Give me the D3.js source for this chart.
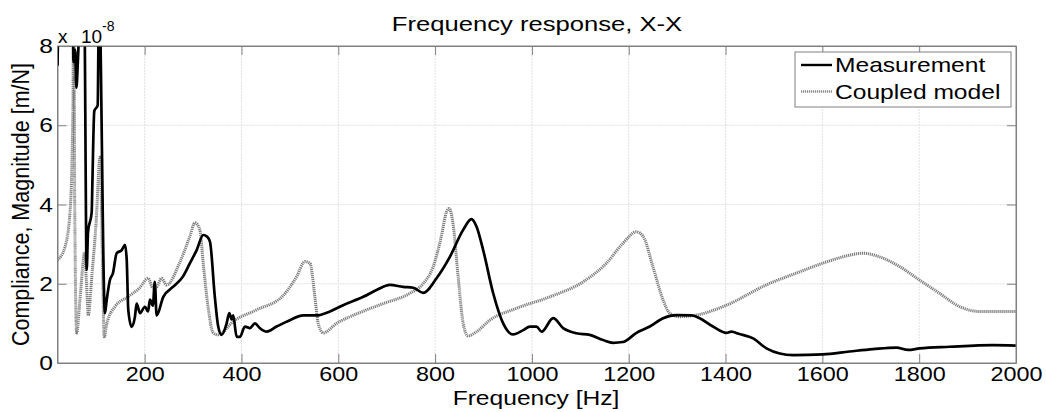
<!DOCTYPE html>
<html>
<head>
<meta charset="utf-8">
<script src="https://cdn.jsdelivr.net/npm/d3@7"></script>
<style>
  body { margin: 0; background: #fff; }
  svg { display: block; font-family: "Liberation Sans", Arial, sans-serif; }
</style>
</head>
<body>
<svg id="chart" width="1046" height="412"></svg>
<script>
// values (magnitude in units of 1e-8 m/N)
const measFreq = [20, 22, 26, 45, 51, 53, 56.5, 59, 62, 65, 70, 74, 76.5, 80.3, 83, 90.6, 92, 96, 103, 104.7,
  106.5, 109, 118, 121.6, 128.4, 134.6, 142.2, 152.6, 159.4, 163, 166.2, 173.2, 180, 183.5, 190.4, 200.7, 207,
  211, 217, 221, 224.8, 238.5, 258.5, 279, 293.6, 307.5, 321, 329, 335, 345, 352, 359, 369.4, 374.8, 379.7, 383,
  390, 397, 407, 417.5, 427.8, 438, 452, 472.6, 500, 527.6, 555, 582.7, 610, 651.5, 679, 706.6, 734, 754.7,
  775.4, 803, 830.5, 858, 875, 885.7, 899.3, 920, 940.6, 961, 982, 995.7, 1009.5, 1020, 1044, 1064.5, 1092,
  1119.6, 1147, 1167.7, 1188, 1216, 1243.5, 1271, 1298.6, 1330, 1346.7, 1374, 1402, 1412, 1429, 1457, 1484.5,
  1512, 1539.5, 1601, 1656, 1704.6, 1753, 1777, 1801, 1863, 1952, 2000];
const measMag = [7.5, 9, 12, 12, 10, 7.6, 7.9, 6.95, 7.6, 8.6, 12, 12, 8, 2.35, 3.3, 3.8, 4.5, 6.36, 6.5, 8.3,
  10, 8, 1.26, 1.59, 2.1, 2.27, 2.77, 2.85, 2.98, 2.6, 1.34, 0.91, 1.17, 1.5, 1.26, 1.42, 1.3,
  1.6, 1.45, 2.05, 1.2, 1.67, 1.92, 2.18, 2.52, 2.85, 3.23, 3.19, 3.06, 1.67, 0.92, 0.71, 1.0, 1.26, 1.1, 1.2,
  0.66, 0.66, 0.92, 0.88, 1.0, 0.88, 0.79, 0.92, 1.08, 1.2, 1.2, 1.3, 1.46, 1.67, 1.84, 1.97, 1.92, 1.9,
  1.77, 2.14, 2.68, 3.36, 3.63, 3.44, 2.85, 1.76, 1.0, 0.72, 0.83, 0.92, 0.92, 0.79, 1.13, 0.88, 0.75,
  0.71, 0.58, 0.51, 0.53, 0.76, 0.92, 1.13, 1.21, 1.2, 1.13, 0.92, 0.76, 0.79, 0.73, 0.62, 0.37,
  0.24, 0.2, 0.22, 0.29, 0.35, 0.39, 0.33, 0.37, 0.41, 0.45, 0.44];

const modelFreq = [20, 35.5, 45.8, 52, 53.5, 55.5, 59.6, 66.5, 73.3, 75.8, 80, 83.6, 91, 99.5, 108, 113, 116.6,
  122, 138.7, 165.6, 190, 207, 217, 225, 235, 245.5, 273, 293.6, 304, 314, 321, 331, 341.7, 352, 383, 431, 486,
  514, 531, 541.4, 551.7, 558.5, 569, 596.5, 638, 693, 748, 775, 796, 813, 823.7, 829, 837, 847.6, 858, 868,
  885.7, 913, 968, 1037, 1106, 1154, 1188, 1216, 1230, 1250, 1271, 1285, 1305, 1340, 1402, 1484, 1553, 1601,
  1643, 1684, 1718, 1760, 1801, 1842, 1884, 1925, 1966, 2000];
const modelMag = [2.6, 2.93, 3.8, 6.5, 12, 4.1, 0.76, 1.6, 2.6, 2.8, 2.0, 1.2, 2.2, 3.5, 5.2, 2.5, 0.66,
  1.0, 1.42, 1.67, 1.9, 2.14, 1.9, 1.92, 2.14, 1.97, 2.55, 3.2, 3.54, 3.36, 2.52, 1.42, 0.76, 0.71, 1.05, 1.34, 1.7,
  2.18, 2.56, 2.52, 1.67, 1.0, 0.76, 1.0, 1.24, 1.5, 1.76, 2.0, 2.43, 3.2, 3.82, 3.9, 3.52, 2.18, 1.0, 0.68,
  0.79, 1.08, 1.38, 1.67, 2.05, 2.52, 3.02, 3.31, 3.19, 2.43, 1.59, 1.25, 1.17, 1.21, 1.46, 1.97, 2.3, 2.52,
  2.68, 2.77, 2.68, 2.43, 2.09, 1.76, 1.42, 1.3, 1.3, 1.3];

const xTicks = [200, 400, 600, 800, 1000, 1200, 1400, 1600, 1800, 2000];
const yTicks = [0, 2, 4, 6, 8];
const seriesNames = ["Measurement", "Coupled model"];

const svg = d3.select("#chart");
const mLeft = 57.5, mRight = 1016, mTop = 46, mBottom = 363;
const x = d3.scaleLinear().domain([20, 2000]).range([mLeft, mRight]);
const y = d3.scaleLinear().domain([0, 8]).range([mBottom, mTop]);
const axisColor = "#808080";
const stretch = 1.17;

// put a text at (px,py) squeezed wider like in the original picture
function placeText(txt, px, py, s) {
  return txt.attr("x", 0).attr("y", 0)
    .attr("transform", "translate(" + px + "," + py + ") scale(" + s + ",1)");
}

svg.append("rect").attr("x", mLeft).attr("y", mTop)
  .attr("width", mRight - mLeft).attr("height", mBottom - mTop).attr("fill", "#fff");

// grid
svg.append("g").selectAll("line").data(xTicks.slice(0, -1)).join("line")
  .attr("x1", d => x(d)).attr("x2", d => x(d)).attr("y1", mTop).attr("y2", mBottom)
  .attr("stroke", "#e0e0e0").attr("stroke-dasharray", "2,1");
svg.append("g").selectAll("line").data(yTicks.slice(1, -1)).join("line")
  .attr("x1", mLeft).attr("x2", mRight).attr("y1", d => y(d)).attr("y2", d => y(d))
  .attr("stroke", "#e0e0e0").attr("stroke-dasharray", "2,1");

// axes, ticks pointing inwards
const fmt = d3.format("d");
const gx = svg.append("g").attr("transform", "translate(0," + mBottom + ")")
  .call(d3.axisBottom(x).tickValues(xTicks).tickFormat(fmt).tickSizeInner(-9).tickSizeOuter(0).tickPadding(4));
const gxTop = svg.append("g").attr("transform", "translate(0," + mTop + ")")
  .call(d3.axisTop(x).tickValues(xTicks).tickSizeInner(-9).tickSizeOuter(0).tickFormat(""));
const gy = svg.append("g").attr("transform", "translate(" + mLeft + ",0)")
  .call(d3.axisLeft(y).tickValues(yTicks).tickFormat(fmt).tickSizeInner(-9).tickSizeOuter(0).tickPadding(4));
const gyRight = svg.append("g").attr("transform", "translate(" + mRight + ",0)")
  .call(d3.axisRight(y).tickValues(yTicks).tickSizeInner(-9).tickSizeOuter(0).tickFormat(""));

[gx, gxTop, gy, gyRight].forEach(g => {
  g.select(".domain").attr("stroke", axisColor);
  g.selectAll(".tick line").attr("stroke", axisColor);
  g.selectAll(".tick text").attr("fill", "#000").attr("font-size", 20)
    .attr("font-family", "Liberation Sans, Arial, sans-serif");
});
gx.selectAll(".tick text").attr("transform", "scale(" + stretch + ",1)");
gy.selectAll(".tick text").attr("font-size", 21).attr("transform", "scale(" + stretch + ",1)");

// curves
svg.append("clipPath").attr("id", "plotclip").append("rect")
  .attr("x", mLeft).attr("y", mTop).attr("width", mRight - mLeft).attr("height", mBottom - mTop);

const line = d3.line().x(d => x(d[0])).y(d => y(d[1])).curve(d3.curveMonotoneX);
const modelData = d3.zip(modelFreq, modelMag);
const measData = d3.zip(measFreq, measMag);

const plot = svg.append("g").attr("clip-path", "url(#plotclip)");
plot.append("path").datum(modelData).attr("d", line)
  .attr("fill", "none").attr("stroke", "#7d7d7d").attr("stroke-width", 3)
  .attr("stroke-dasharray", "1.2,0.8");
plot.append("path").datum(measData).attr("d", line)
  .attr("fill", "none").attr("stroke", "#000").attr("stroke-width", 2.7)
  .attr("stroke-linejoin", "round");

// redraw the frame on top
svg.append("rect").attr("x", mLeft).attr("y", mTop)
  .attr("width", mRight - mLeft).attr("height", mBottom - mTop)
  .attr("fill", "none").attr("stroke", axisColor);

// exponent label
const expo = svg.append("text").attr("y", 43).attr("font-size", 19).attr("fill", "#000");
expo.append("tspan").attr("x", 58).text("x");
expo.append("tspan").attr("x", 81).text("10");
expo.append("tspan").attr("x", 102).attr("font-size", 14).attr("dy", -12).text("-8");

// title and axis labels
placeText(svg.append("text"), 537, 31, 1.22)
  .attr("text-anchor", "middle").attr("font-size", 21).text("Frequency response, X-X");
placeText(svg.append("text"), 536, 405, 1.2)
  .attr("text-anchor", "middle").attr("font-size", 20.5).text("Frequency [Hz]");
svg.append("text").attr("x", 0).attr("y", 0)
  .attr("transform", "translate(29," + ((mTop + mBottom) / 2) + ") rotate(-90) scale(1,1.15)")
  .attr("text-anchor", "middle").attr("font-size", 21.5).text("Compliance, Magnitude [m/N]");

// legend
const legend = svg.append("g");
legend.append("rect").attr("x", 795).attr("y", 52).attr("width", 216).attr("height", 55)
  .attr("fill", "#fff").attr("stroke", axisColor);
const legendStyles = [
  { stroke: "#000", width: 2.4, dash: null },
  { stroke: "#8a8a8a", width: 2.4, dash: "1.2,0.8" }
];
seriesNames.forEach((name, i) => {
  const ly = 65 + i * 26.5;
  legend.append("line").attr("x1", 801).attr("x2", 832).attr("y1", ly).attr("y2", ly)
    .attr("stroke", legendStyles[i].stroke).attr("stroke-width", legendStyles[i].width)
    .attr("stroke-dasharray", legendStyles[i].dash);
  placeText(legend.append("text"), 835, ly + 7, 1.2).attr("font-size", 20.5).text(name);
});
</script>
</body>
</html>
